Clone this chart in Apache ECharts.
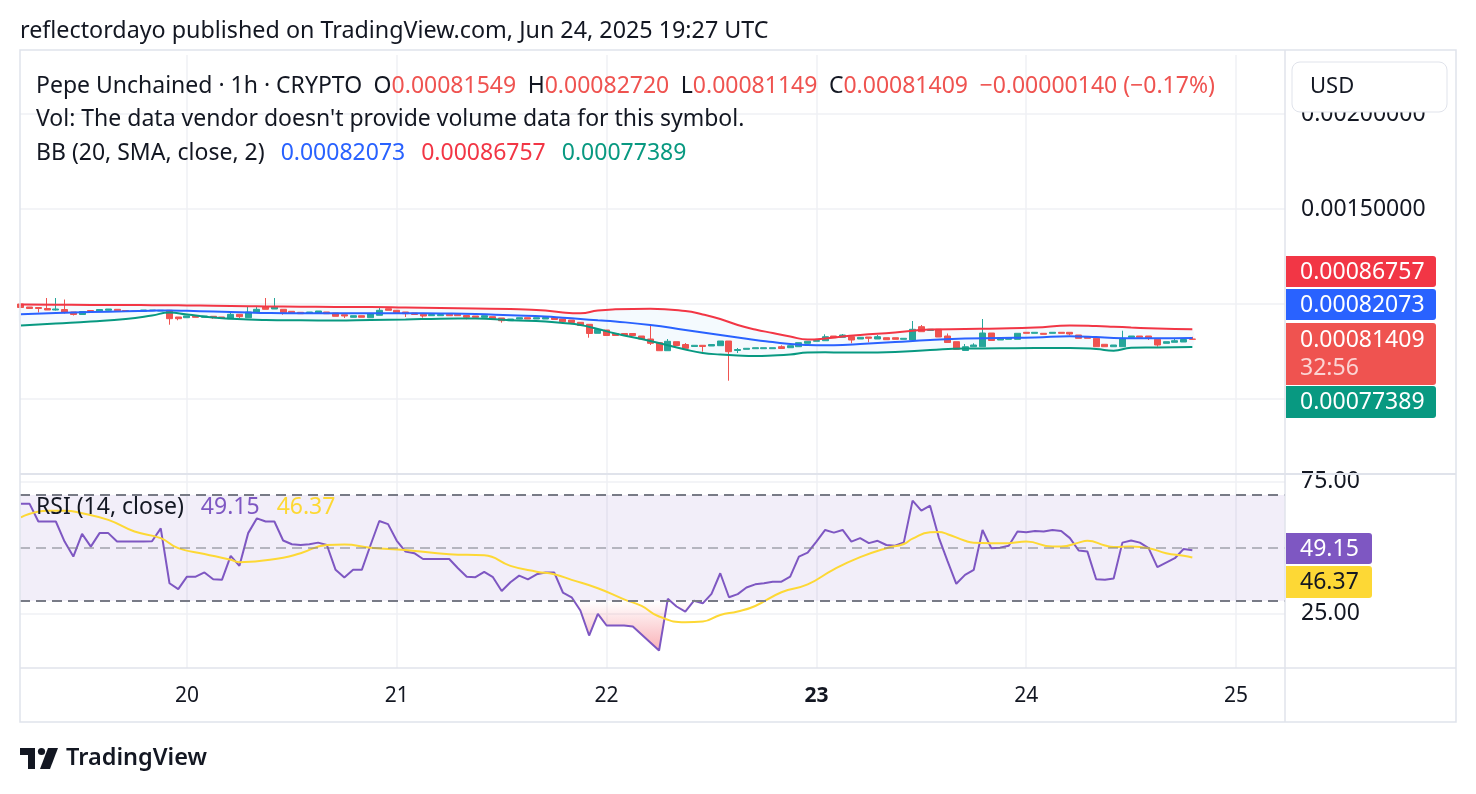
<!DOCTYPE html>
<html>
<head>
<meta charset="utf-8">
<script src="https://cdn.jsdelivr.net/npm/echarts@6.0.0/dist/echarts.min.js"></script>
<style>
  html, body { margin: 0; padding: 0; background: #fff; }
  #chart { width: 1476px; height: 794px; }
</style>
</head>
<body>
<div id="chart"></div>
<script>
// x values are hours counted from Jun 19 00:00 UTC, one candle per hour
const firstCandleHour = 5

const opens = [
  0.00100000, 0.00098421, 0.00098158, 0.00097632, 0.00096842, 0.00097105, 0.00095789, 0.00094474, 0.00096579, 0.00096316,
  0.00096684, 0.00097211, 0.00096579, 0.00096316, 0.00096158, 0.00096474, 0.00096316, 0.00096684, 0.00093158, 0.00092789,
  0.00093684, 0.00093000, 0.00093526, 0.00093158, 0.00092263, 0.00094579, 0.00092789, 0.00095421, 0.00098579, 0.00097368,
  0.00097211, 0.00096158, 0.00095632, 0.00095263, 0.00095263, 0.00095789, 0.00095263, 0.00094368, 0.00093000, 0.00093842,
  0.00092789, 0.00094053, 0.00097526, 0.00096684, 0.00095789, 0.00095263, 0.00094579, 0.00093842, 0.00093842, 0.00094579,
  0.00094579, 0.00093947, 0.00093684, 0.00093000, 0.00093316, 0.00092632, 0.00091211, 0.00092105, 0.00092789, 0.00092105,
  0.00092105, 0.00092789, 0.00092105, 0.00091579, 0.00090368, 0.00089316, 0.00084579, 0.00086316, 0.00084474, 0.00084474,
  0.00084474, 0.00083158, 0.00081579, 0.00079632, 0.00075421, 0.00080158, 0.00078684, 0.00077632, 0.00078263, 0.00077895,
  0.00078053, 0.00080526, 0.00075526, 0.00076158, 0.00076474, 0.00076474, 0.00076474, 0.00077526, 0.00077000, 0.00077526,
  0.00079316, 0.00080368, 0.00080684, 0.00083158, 0.00082474, 0.00082789, 0.00081579, 0.00082632, 0.00081579, 0.00082263,
  0.00082263, 0.00081421, 0.00081053, 0.00088053, 0.00086053, 0.00086684, 0.00083158, 0.00080158, 0.00075526, 0.00077526,
  0.00077526, 0.00084737, 0.00081053, 0.00081421, 0.00081421, 0.00085105, 0.00084579, 0.00084579, 0.00084579, 0.00085105,
  0.00085105, 0.00083684, 0.00082789, 0.00081947, 0.00078789, 0.00077526, 0.00077526, 0.00082474, 0.00083158, 0.00083158,
  0.00081421, 0.00079316, 0.00079842, 0.00080000, 0.00081549
]
const closes = [
  0.00098158, 0.00097632, 0.00097632, 0.00096842, 0.00097368, 0.00095789, 0.00094474, 0.00096053, 0.00096053, 0.00097105,
  0.00097368, 0.00096474, 0.00096158, 0.00096053, 0.00096842, 0.00096842, 0.00096684, 0.00092263, 0.00092263, 0.00093684,
  0.00093000, 0.00093684, 0.00092789, 0.00092474, 0.00094579, 0.00093316, 0.00095789, 0.00097211, 0.00097211, 0.00098421,
  0.00095421, 0.00095263, 0.00094895, 0.00095789, 0.00096316, 0.00094895, 0.00093526, 0.00093684, 0.00093842, 0.00093000,
  0.00094895, 0.00096684, 0.00096684, 0.00095421, 0.00094895, 0.00094474, 0.00093684, 0.00094474, 0.00094474, 0.00093842,
  0.00093842, 0.00093000, 0.00093000, 0.00093842, 0.00092263, 0.00091211, 0.00092105, 0.00092789, 0.00092105, 0.00092789,
  0.00092895, 0.00091842, 0.00090684, 0.00090263, 0.00088684, 0.00084474, 0.00086579, 0.00083421, 0.00083421, 0.00083421,
  0.00083421, 0.00081579, 0.00079316, 0.00075421, 0.00080368, 0.00078158, 0.00076684, 0.00078263, 0.00077632, 0.00078684,
  0.00080526, 0.00074895, 0.00076053, 0.00076684, 0.00077000, 0.00077000, 0.00077000, 0.00076579, 0.00078053, 0.00079632,
  0.00080368, 0.00080789, 0.00082789, 0.00082263, 0.00083684, 0.00081053, 0.00082474, 0.00081947, 0.00082789, 0.00081211,
  0.00081421, 0.00081947, 0.00086684, 0.00085421, 0.00086684, 0.00082632, 0.00079737, 0.00076158, 0.00077526, 0.00078421,
  0.00084737, 0.00080789, 0.00081842, 0.00082105, 0.00084579, 0.00084579, 0.00085105, 0.00084053, 0.00085105, 0.00084579,
  0.00084211, 0.00081947, 0.00081947, 0.00077526, 0.00077526, 0.00078421, 0.00081947, 0.00083158, 0.00082474, 0.00082105,
  0.00078421, 0.00080158, 0.00080684, 0.00081316, 0.00081409
]
const lows = [
  0.00098158, 0.00097632, 0.00095526, 0.00096842, 0.00096579, 0.00095000, 0.00093947, 0.00094474, 0.00096053, 0.00095789,
  0.00096579, 0.00096474, 0.00096158, 0.00096053, 0.00096158, 0.00096474, 0.00096316, 0.00089105, 0.00091421, 0.00092789,
  0.00093000, 0.00093000, 0.00092263, 0.00092474, 0.00092263, 0.00092632, 0.00092789, 0.00095421, 0.00097211, 0.00097368,
  0.00094368, 0.00095263, 0.00094895, 0.00095263, 0.00095263, 0.00094895, 0.00093526, 0.00092632, 0.00093000, 0.00093000,
  0.00092789, 0.00094053, 0.00096684, 0.00095421, 0.00093158, 0.00094474, 0.00092789, 0.00093842, 0.00093842, 0.00093842,
  0.00093842, 0.00091947, 0.00093000, 0.00093000, 0.00092263, 0.00090158, 0.00091211, 0.00092105, 0.00092105, 0.00092105,
  0.00092105, 0.00091842, 0.00089474, 0.00090263, 0.00088684, 0.00082263, 0.00084579, 0.00083421, 0.00083421, 0.00083421,
  0.00083421, 0.00081579, 0.00078421, 0.00075421, 0.00075421, 0.00078158, 0.00076684, 0.00077632, 0.00074895, 0.00077895,
  0.00078053, 0.00059632, 0.00074211, 0.00076158, 0.00076474, 0.00076474, 0.00076474, 0.00076579, 0.00077000, 0.00077526,
  0.00079316, 0.00080368, 0.00080684, 0.00082263, 0.00082474, 0.00079316, 0.00081579, 0.00079842, 0.00081579, 0.00081211,
  0.00081421, 0.00081421, 0.00081053, 0.00085421, 0.00086053, 0.00082632, 0.00079737, 0.00076158, 0.00075526, 0.00077526,
  0.00077526, 0.00080789, 0.00081053, 0.00081421, 0.00081421, 0.00084579, 0.00084579, 0.00084053, 0.00084579, 0.00084579,
  0.00083526, 0.00081947, 0.00081947, 0.00077526, 0.00077526, 0.00077526, 0.00077526, 0.00082474, 0.00082474, 0.00081053,
  0.00077526, 0.00079316, 0.00079842, 0.00080000, 0.00081149
]
const highs = [
  0.00100263, 0.00098421, 0.00098158, 0.00103158, 0.00103158, 0.00102368, 0.00095789, 0.00096316, 0.00096579, 0.00097105,
  0.00097368, 0.00097211, 0.00096579, 0.00096316, 0.00096842, 0.00096842, 0.00096684, 0.00096684, 0.00093158, 0.00093684,
  0.00093684, 0.00093684, 0.00093526, 0.00093158, 0.00096316, 0.00094579, 0.00098421, 0.00098421, 0.00103158, 0.00103158,
  0.00097211, 0.00096158, 0.00095632, 0.00095789, 0.00096316, 0.00095789, 0.00095263, 0.00094368, 0.00093842, 0.00093842,
  0.00094895, 0.00098421, 0.00097526, 0.00096684, 0.00095789, 0.00095263, 0.00094579, 0.00094474, 0.00094474, 0.00094579,
  0.00094579, 0.00093947, 0.00093684, 0.00093842, 0.00093316, 0.00092632, 0.00092105, 0.00092789, 0.00092789, 0.00092789,
  0.00093684, 0.00092789, 0.00092105, 0.00091579, 0.00090368, 0.00089316, 0.00086579, 0.00086316, 0.00084474, 0.00084474,
  0.00084474, 0.00083158, 0.00089474, 0.00079632, 0.00081579, 0.00080158, 0.00079474, 0.00078263, 0.00078263, 0.00078684,
  0.00080526, 0.00080526, 0.00076842, 0.00076684, 0.00077000, 0.00077000, 0.00077000, 0.00078263, 0.00078053, 0.00079632,
  0.00080368, 0.00080789, 0.00084053, 0.00083158, 0.00084211, 0.00082789, 0.00082474, 0.00082632, 0.00083684, 0.00082263,
  0.00082263, 0.00081947, 0.00091053, 0.00088947, 0.00086684, 0.00086684, 0.00084474, 0.00080158, 0.00078947, 0.00079316,
  0.00092105, 0.00084737, 0.00081842, 0.00082105, 0.00084579, 0.00085105, 0.00085105, 0.00084579, 0.00085105, 0.00085105,
  0.00085105, 0.00083684, 0.00082789, 0.00081947, 0.00078789, 0.00078421, 0.00085947, 0.00083158, 0.00083158, 0.00083158,
  0.00081421, 0.00080158, 0.00081947, 0.00081947, 0.00082720
]

// Bollinger Bands (20, 2) at these hours
const bbHours = [5, 9, 13, 17, 20, 22, 24, 27, 31, 33, 37, 41, 45, 49, 53, 57, 61, 65, 67, 69,
  71, 73, 77, 81, 83, 85, 87, 89, 91, 93, 95, 97, 99, 101, 105, 109, 113, 117, 121, 125,
  128, 130, 132, 135, 139]
const bbUpper = [0.00099737, 0.00099632, 0.00099474, 0.00099474, 0.00099368, 0.00099316, 0.00099263, 0.00099105, 0.00098842, 0.00098684,
  0.00098579, 0.00098421, 0.00098421, 0.00098158, 0.00097895, 0.00097632, 0.00097368, 0.00096579, 0.00095526, 0.00095105,
  0.00096579, 0.00097211, 0.00097526, 0.00096316, 0.00094474, 0.00092105, 0.00088947, 0.00086579, 0.00084737, 0.00082895,
  0.00081316, 0.00081842, 0.00082895, 0.00083684, 0.00085000, 0.00086579, 0.00086842, 0.00087105, 0.00087632, 0.00088684,
  0.00088421, 0.00088053, 0.00087632, 0.00087105, 0.00086757]
const bbMiddle = [0.00094579, 0.00095263, 0.00095789, 0.00096158, 0.00096474, 0.00096579, 0.00096421, 0.00096053, 0.00095526, 0.00095263,
  0.00095105, 0.00095105, 0.00095105, 0.00095105, 0.00095000, 0.00094737, 0.00094053, 0.00093421, 0.00092789, 0.00092105,
  0.00091421, 0.00090789, 0.00088947, 0.00086316, 0.00085000, 0.00083684, 0.00082368, 0.00081053, 0.00080000, 0.00078947,
  0.00078421, 0.00078263, 0.00078421, 0.00078947, 0.00080000, 0.00081053, 0.00081842, 0.00082105, 0.00082368, 0.00083000,
  0.00082632, 0.00082105, 0.00081947, 0.00081947, 0.00082073]
const bbLower = [0.00088684, 0.00089737, 0.00090789, 0.00092105, 0.00093947, 0.00095526, 0.00094474, 0.00092895, 0.00091842, 0.00091579,
  0.00091421, 0.00091316, 0.00091579, 0.00091842, 0.00092263, 0.00092368, 0.00091421, 0.00090789, 0.00090000, 0.00088947,
  0.00086842, 0.00084474, 0.00080526, 0.00076053, 0.00074211, 0.00073421, 0.00072895, 0.00072632, 0.00072895, 0.00073421,
  0.00074474, 0.00074579, 0.00074474, 0.00074474, 0.00074737, 0.00075789, 0.00076579, 0.00076684, 0.00076842, 0.00076842,
  0.00076316, 0.00075421, 0.00076947, 0.00077105, 0.00077389]

// RSI (14, close), one value per candle
const rsiValues = [
  66.7, 66.7, 60, 60, 60, 52.4, 46.7, 55.3, 50.5, 55.6,
  55.6, 52.4, 52.4, 52.4, 52.4, 52.5, 57.4, 36.6, 34.4, 39.1,
  39.1, 40.7, 38.1, 37.9, 47, 43.2, 55.6, 61.2, 60, 60,
  52.8, 51.4, 51.1, 51.4, 52, 51.1, 41.7, 38.8, 41.7, 41.7,
  51.1, 60.2, 59, 52.7, 48.6, 48, 45.8, 45.8, 45.8, 45.8,
  42.3, 39.1, 38.9, 40.9, 38.9, 33.7, 37, 39.5, 38.1, 40,
  40.7, 40.7, 33.1, 31.3, 26.3, 16.8, 25, 20.6, 20.6, 20.6,
  20.2, 17.2, 14.2, 11.1, 30.7, 27.8, 25.9, 30, 29, 32.6,
  40.4, 31.3, 32.5, 35, 36.2, 36.6, 37.2, 37.2, 39.1, 46.7,
  48.2, 52.4, 56.8, 55.8, 56.8, 52.4, 53.7, 51.8, 52.7, 51.1,
  50.8, 52.1, 67.9, 64.1, 66, 53.9, 45, 36.4, 39.8, 41.7,
  56.8, 49.9, 50.1, 50.8, 56.2, 55.9, 56.4, 56.2, 56.8, 56.4,
  53.7, 49, 48.6, 38.1, 37.9, 38.4, 52, 52.8, 52, 49.9,
  42.7, 44.4, 46.1, 49.6, 49.15
]
// RSI-based moving average, read at these hours
const rsiMaHours = [5, 8, 10, 12, 15, 18, 21, 23, 26, 29, 30, 35, 37, 40, 42, 45, 49, 54, 58, 61,
  64, 66, 68, 71, 74, 76, 78, 81, 83, 85, 87, 89, 92, 95, 98, 101, 104, 106, 107, 109,
  110, 111, 113, 114, 118, 120, 123, 124, 126, 127, 129, 130, 132, 134, 136, 138, 139]
const rsiMaValues = [61.6, 64.1, 64.1, 63.1, 60.6, 56.2, 53.7, 49.9, 47.7, 45.5, 44.6, 46.3, 48, 51.1, 51.3, 50.1, 49.2, 47.6, 47.2, 43.2,
  41, 40, 37.9, 34.7, 30.5, 28, 24, 21.8, 22.1, 24.6, 25.9, 28, 33.2, 36.2, 41.9, 46.5, 49.9, 51.5, 53.5, 55.9,
  56, 55.2, 52.7, 52, 51.8, 52.4, 50.5, 50.5, 52, 52.7, 50.9, 50.3, 50.5, 49.9, 48, 47, 46.37]

// axis ticks
const dayTicks = [24, 48, 72, 96, 120, 144]
const dayLabels = ['20', '21', '22', '23', '24', '25']
const priceGridValues = [0.0005, 0.001, 0.0015, 0.002]
const priceLabelValues = [0.0015, 0.002]
const rsiTickValues = [25, 75]

const fontFamily = '"Noto Sans", sans-serif'
const fs = 23
const ink = '#131722'
const upColor = '#26a69a'
const downColor = '#ef5350'
const gridColor = '#eff1f5'
const frameColor = '#e0e3eb'

const candleData = opens.map((o, i) => [firstCandleHour + i, o, closes[i], lows[i], highs[i]])
const rsiData = rsiValues.map((v, i) => [firstCandleHour + i, v])
const rsiMaData = rsiMaHours.map((h, i) => [h, rsiMaValues[i]])
const upperData = bbHours.map((h, i) => [h, bbUpper[i]])
const middleData = bbHours.map((h, i) => [h, bbMiddle[i]])
const lowerData = bbHours.map((h, i) => [h, bbLower[i]])

const chart = echarts.init(document.getElementById('chart'))

const txt = (size, color, extra) => Object.assign({ fill: color, fontSize: size, fontFamily }, extra || {})
const gap = w => ({ width: w, fontSize: fs, fontFamily })

function tag(y, h, bg, lines, w) {
  const els = [{
    type: 'rect', z: 100,
    shape: { x: 1286, y, width: w || 150, height: h, r: [0, 3, 3, 0] },
    style: { fill: bg }
  }]
  lines.forEach(l => {
    els.push({
      type: 'text', z: 101, x: 1300, y: l.y,
      style: { text: l.text, fill: l.color, fontSize: 23, fontFamily, verticalAlign: 'middle' }
    })
  })
  return els
}

const graphics = [
  // frame and pane separators
  { type: 'rect', z: 50, shape: { x: 20, y: 50, width: 1436, height: 672 }, style: { fill: 'none', stroke: frameColor, lineWidth: 1.5 } },
  { type: 'line', z: 50, shape: { x1: 20, y1: 474, x2: 1456, y2: 474 }, style: { stroke: frameColor, lineWidth: 2 } },
  { type: 'line', z: 50, shape: { x1: 20, y1: 668, x2: 1456, y2: 668 }, style: { stroke: frameColor, lineWidth: 1.5 } },
  { type: 'line', z: 50, shape: { x1: 1285, y1: 50, x2: 1285, y2: 722 }, style: { stroke: frameColor, lineWidth: 1.5 } },

  // header
  { type: 'text', x: 20, y: 31, style: txt(23.3, ink, { text: 'reflectordayo published on TradingView.com, Jun 24, 2025 19:27 UTC', verticalAlign: 'middle' }) },
  {
    type: 'text', z: 60, x: 36, y: 86,
    style: {
      text: '{d|Pepe Unchained · 1h · CRYPTO}{s| }{d|O}{r|0.00081549}{s| }{d|H}{r|0.00082720}{s| }{d|L}{r|0.00081149}{s| }{d|C}{r|0.00081409}{s| }{r|−0.00000140 (−0.17%)}',
      verticalAlign: 'middle',
      rich: { d: txt(fs, ink), r: txt(fs, downColor), s: gap(11.5) }
    }
  },
  { type: 'text', z: 60, x: 36, y: 119, style: txt(fs, ink, { text: "Vol: The data vendor doesn't provide volume data for this symbol.", verticalAlign: 'middle' }) },
  {
    type: 'text', z: 60, x: 36, y: 153,
    style: {
      text: '{d|BB (20, SMA, close, 2)}{s| }{b|0.00082073}{s| }{r|0.00086757}{s| }{g|0.00077389}',
      verticalAlign: 'middle',
      rich: { d: txt(fs, ink), b: txt(fs, '#2962ff'), r: txt(fs, '#f23645'), g: txt(fs, '#089981'), s: gap(16) }
    }
  },
  {
    type: 'text', z: 60, x: 36, y: 507,
    style: {
      text: '{d|RSI (14, close)}{s| }{p|49.15}{s| }{y|46.37}',
      verticalAlign: 'middle',
      rich: { d: txt(fs, ink), p: txt(fs, '#7e57c2'), y: txt(fs, '#fdd835'), s: gap(17) }
    }
  },

  // currency button
  { type: 'rect', z: 100, shape: { x: 1292, y: 62, width: 155, height: 50, r: 8 }, style: { fill: '#fff', stroke: frameColor, lineWidth: 1 } },
  { type: 'text', z: 101, x: 1310, y: 87, style: txt(22, ink, { text: 'USD', verticalAlign: 'middle' }) },

  // last value tags
  ...tag(256, 31, '#f23645', [{ y: 272, text: '0.00086757', color: '#fff' }]),
  ...tag(289, 31, '#2962ff', [{ y: 305, text: '0.00082073', color: '#fff' }]),
  ...tag(323, 62, downColor, [{ y: 340, text: '0.00081409', color: '#fff' }, { y: 368, text: '32:56', color: 'rgba(255,255,255,0.75)' }]),
  ...tag(386, 32, '#089981', [{ y: 402, text: '0.00077389', color: '#fff' }]),
  ...tag(533, 31, '#7e57c2', [{ y: 549, text: '49.15', color: '#fff' }], 86),
  ...tag(566, 32, '#fdd835', [{ y: 582, text: '46.37', color: ink }], 86),

  // logo
  { type: 'rect', shape: { x: 20, y: 748, width: 15, height: 7 }, style: { fill: ink } },
  { type: 'rect', shape: { x: 28, y: 748, width: 7, height: 21 }, style: { fill: ink } },
  { type: 'circle', shape: { cx: 41.5, cy: 751.5, r: 3.6 }, style: { fill: ink } },
  { type: 'polygon', shape: { points: [[48, 748], [58, 748], [50, 769], [40, 769]] }, style: { fill: ink } },
  { type: 'text', x: 66, y: 758, style: txt(23.5, ink, { text: 'TradingView', fontWeight: 600, verticalAlign: 'middle' }) }
]

const option = {
  animation: false,
  backgroundColor: '#fff',
  textStyle: { fontFamily },
  grid: [
    { left: 20, top: 55, width: 1265, height: 419 },
    { left: 20, top: 474, width: 1265, height: 194 }
  ],
  xAxis: [
    {
      type: 'value', gridIndex: 0, min: 4.9, max: 149.6,
      axisLine: { show: false },
      axisTick: { show: false, customValues: dayTicks },
      axisLabel: { show: false },
      splitLine: { show: true, lineStyle: { color: gridColor, width: 1.5 } }
    },
    {
      type: 'value', gridIndex: 1, min: 4.9, max: 149.6,
      axisLine: { show: false },
      axisTick: { show: false, customValues: dayTicks },
      axisLabel: {
        customValues: dayTicks,
        margin: 18,
        fontSize: 21,
        color: ink,
        fontFamily,
        formatter: v => {
          const label = dayLabels[dayTicks.indexOf(v)]
          return label === '23' ? '{b|' + label + '}' : label
        },
        rich: { b: { fontWeight: 'bold', fontSize: 21, color: ink, fontFamily } }
      },
      splitLine: { show: true, lineStyle: { color: gridColor, width: 1.5 } }
    }
  ],
  yAxis: [
    {
      type: 'value', gridIndex: 0, position: 'right', min: 0.0001053, max: 0.0023105,
      axisLine: { show: false },
      axisTick: { show: false, customValues: priceGridValues },
      axisLabel: {
        customValues: priceLabelValues,
        formatter: v => v.toFixed(8),
        align: 'left', margin: 16, fontSize: 23, color: ink, fontFamily
      },
      splitLine: { show: true, lineStyle: { color: gridColor, width: 1.5 } }
    },
    {
      type: 'value', gridIndex: 1, position: 'right', min: 4.5, max: 78,
      axisLine: { show: false },
      axisTick: { show: false, customValues: rsiTickValues },
      axisLabel: {
        customValues: rsiTickValues,
        formatter: v => v.toFixed(2),
        align: 'left', margin: 16, fontSize: 23, color: ink, fontFamily
      },
      splitLine: { show: true, lineStyle: { color: gridColor, width: 1.5 } }
    }
  ],
  series: [
    // light fill between the upper and lower band
    {
      type: 'custom', xAxisIndex: 0, yAxisIndex: 0, silent: true,
      data: [[bbHours[0], bbMiddle[0]]],
      renderItem: (params, api) => {
        const top = bbHours.map((h, i) => api.coord([h, bbUpper[i]]))
        const bottom = bbHours.map((h, i) => api.coord([h, bbLower[i]])).reverse()
        return {
          type: 'polygon',
          shape: { points: top.concat(bottom), smooth: 0.25 },
          style: { fill: 'rgba(33,150,243,0.05)' }
        }
      }
    },
    {
      name: 'Price', type: 'candlestick', xAxisIndex: 0, yAxisIndex: 0,
      data: candleData, encode: { x: 0, y: [1, 2, 3, 4] },
      barWidth: 6.5,
      itemStyle: { color: upColor, color0: downColor, borderColor: upColor, borderColor0: downColor, borderWidth: 1 }
    },
    { name: 'Upper', type: 'line', xAxisIndex: 0, yAxisIndex: 0, data: upperData, smooth: true, symbol: 'none', lineStyle: { color: '#f23645', width: 2 } },
    { name: 'Basis', type: 'line', xAxisIndex: 0, yAxisIndex: 0, data: middleData, smooth: true, symbol: 'none', lineStyle: { color: '#2962ff', width: 2 } },
    { name: 'Lower', type: 'line', xAxisIndex: 0, yAxisIndex: 0, data: lowerData, smooth: true, symbol: 'none', lineStyle: { color: '#089981', width: 2 } },

    // RSI pane
    {
      name: 'Oversold', type: 'line', xAxisIndex: 1, yAxisIndex: 1, data: rsiData,
      symbol: 'none', lineStyle: { width: 0 }, silent: true,
      areaStyle: {
        origin: 'end',
        color: new echarts.graphic.LinearGradient(0, 601, 0, 655, [
          { offset: 0, color: 'rgba(242,54,69,0)' },
          { offset: 1, color: 'rgba(242,54,69,0.6)' }
        ], true)
      }
    },
    {
      name: 'RSI', type: 'line', xAxisIndex: 1, yAxisIndex: 1, data: rsiData,
      symbol: 'none', lineStyle: { color: '#7e57c2', width: 2 },
      markArea: {
        silent: true,
        itemStyle: { color: 'rgba(126,87,194,0.1)' },
        data: [[{ yAxis: 30 }, { yAxis: 70 }]]
      },
      markLine: {
        silent: true, symbol: 'none', label: { show: false },
        data: [
          { yAxis: 70, lineStyle: { color: '#787b86', width: 2, type: [10, 6] } },
          { yAxis: 50, lineStyle: { color: 'rgba(120,123,134,0.5)', width: 2, type: [10, 6] } },
          { yAxis: 30, lineStyle: { color: '#787b86', width: 2, type: [10, 6] } }
        ]
      }
    },
    {
      name: 'RSI-based MA', type: 'line', xAxisIndex: 1, yAxisIndex: 1, data: rsiMaData,
      smooth: true, symbol: 'none', lineStyle: { color: '#fdd835', width: 2 }
    }
  ],
  graphic: graphics
}

chart.setOption(option)
</script>
</body>
</html>
